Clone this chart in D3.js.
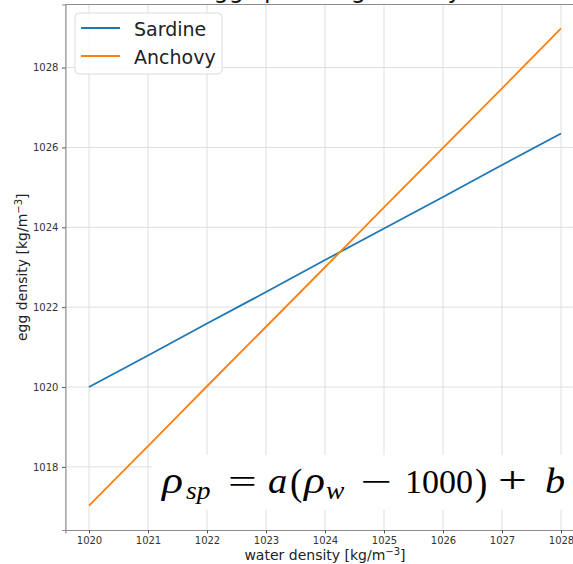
<!DOCTYPE html>
<html><head><meta charset="utf-8">
<script src="https://cdn.jsdelivr.net/npm/d3@7"></script>
<style>body{margin:0;background:#fff}svg{display:block;overflow:hidden}</style>
</head><body>
<script>
const waterDensity = [1020,1021,1022,1023,1024,1025,1026,1027,1028];
const sardine = [1020.00,1020.79,1021.59,1022.38,1023.18,1023.97,1024.76,1025.56,1026.35];
const anchovy = [1017.03,1018.52,1020.02,1021.51,1023.00,1024.50,1025.99,1027.48,1028.98];
const seriesNames = ["Sardine","Anchovy"];
const xTicks = [1020,1021,1022,1023,1024,1025,1026,1027,1028];
const yTicks = [1018,1020,1022,1024,1026,1028];

const W=573,H=564;
const svg=d3.select("body").append("svg").attr("width",W).attr("height",H);
const L=65.4,R=584.6,T=4.5,B=530;
const x=d3.scaleLinear().domain([1019.6,1028.4]).range([L,R]);
const y=d3.scaleLinear().domain([1016.42,1029.58]).range([B,T]);

// grid
const g=svg.append("g");
g.selectAll(".gx").data(xTicks).join("line").attr("x1",d=>x(d)).attr("x2",d=>x(d)).attr("y1",T).attr("y2",B).attr("stroke","#dedede").attr("stroke-width",1);
g.selectAll(".gy").data(yTicks).join("line").attr("x1",L).attr("x2",R).attr("y1",d=>y(d)).attr("y2",d=>y(d)).attr("stroke","#dedede").attr("stroke-width",1);

// lines
const line=d3.line().x((d,i)=>x(waterDensity[i])).y(d=>y(d));
const colors=["#1f77b4","#ff7f0e"];
svg.append("path").datum(sardine).attr("d",line).attr("fill","none").attr("stroke",colors[0]).attr("stroke-width",1.8);
svg.append("path").datum(anchovy).attr("d",line).attr("fill","none").attr("stroke",colors[1]).attr("stroke-width",1.8);

// axes
const xa=svg.append("g").attr("transform",`translate(0,${B})`).call(d3.axisBottom(x).tickValues(xTicks).tickFormat(d3.format("d")).tickSize(3.5).tickPadding(3));
const ya=svg.append("g").attr("transform",`translate(${L},0)`).call(d3.axisLeft(y).tickValues(yTicks).tickFormat(d3.format("d")).tickSize(3.5).tickPadding(3.5));
[xa,ya].forEach(a=>{a.select(".domain").attr("stroke","#8c8c8c").attr("stroke-width",1.2);
 a.selectAll(".tick line").attr("stroke","#555");
 a.selectAll(".tick text").attr("fill","#333").style("font-family","DejaVu Sans").style("font-size","10px");});
svg.append("line").attr("x1",L).attr("x2",R).attr("y1",T).attr("y2",T).attr("stroke","#8c8c8c").attr("stroke-width",1.2);

// axis labels
svg.append("text").attr("x",(L+R)/2).attr("y",560).attr("text-anchor","middle").style("font-family","DejaVu Sans").style("font-size","14px").attr("fill","#222")
 .html('water density [kg/m<tspan dy="-5" font-size="10px">−3</tspan><tspan dy="5">]</tspan>');
svg.append("text").attr("transform",`translate(27,${(T+B)/2}) rotate(-90)`).attr("text-anchor","middle").style("font-family","DejaVu Sans").style("font-size","14px").attr("fill","#222")
 .html('egg density [kg/m<tspan dy="-5" font-size="10px">−3</tspan><tspan dy="5">]</tspan>');

// title (cut off at top, as in the reference)
svg.append("text").attr("x",330).attr("y",-2.5).attr("text-anchor","middle").style("font-family","DejaVu Sans").style("font-size","24px").attr("fill","#111").text("Egg spawning density");

// legend
const lg=svg.append("g");
lg.append("rect").attr("x",75).attr("y",13).attr("width",147).attr("height",61).attr("rx",4).attr("fill","rgba(255,255,255,0.85)").attr("stroke","#dcdcdc");
seriesNames.forEach((n,i)=>{
 const yy=28+i*28;
 lg.append("line").attr("x1",81).attr("x2",120).attr("y1",yy).attr("y2",yy).attr("stroke",colors[i]).attr("stroke-width",1.8);
 lg.append("text").attr("x",134).attr("y",yy+7.5).style("font-family","DejaVu Sans").style("font-size","19px").attr("fill","#222").text(n);
});

// equation box
svg.append("rect").attr("x",152).attr("y",455).attr("width",430).attr("height",55).attr("fill","#fff");
const eqParts=[
 {t:"ρ",x:162,y:493,it:1,fs:38,sx:1.15},{t:"sp",x:186,y:499,it:1,fs:25,sx:1.1},
 {t:"=",x:228,y:493,fs:34,sx:1.5},{t:"a",x:268,y:493,it:1,fs:35,sx:1.1},{t:"(",x:290,y:495,fs:37,sx:1},
 {t:"ρ",x:304,y:493,it:1,fs:38,sx:1.15},{t:"w",x:326,y:499,it:1,fs:25,sx:1.1},
 {t:"−",x:360,y:493,fs:34,sx:1.65},{t:"1000",x:405,y:493,fs:34,sx:1},{t:")",x:475,y:495,fs:37,sx:1},
 {t:"+",x:498,y:493,fs:38,sx:1.35},{t:"b",x:545,y:493,it:1,fs:35,sx:1.15}];
const eq=svg.append("g").style("font-family","Liberation Serif").attr("fill","#000");
eqParts.forEach(p=>{
 eq.append("text").attr("transform",`translate(${p.x},${p.y}) scale(${p.sx},1)`)
  .attr("font-style",p.it?"italic":"normal").style("font-size",p.fs+"px").text(p.t);
});
</script>
</body></html>
